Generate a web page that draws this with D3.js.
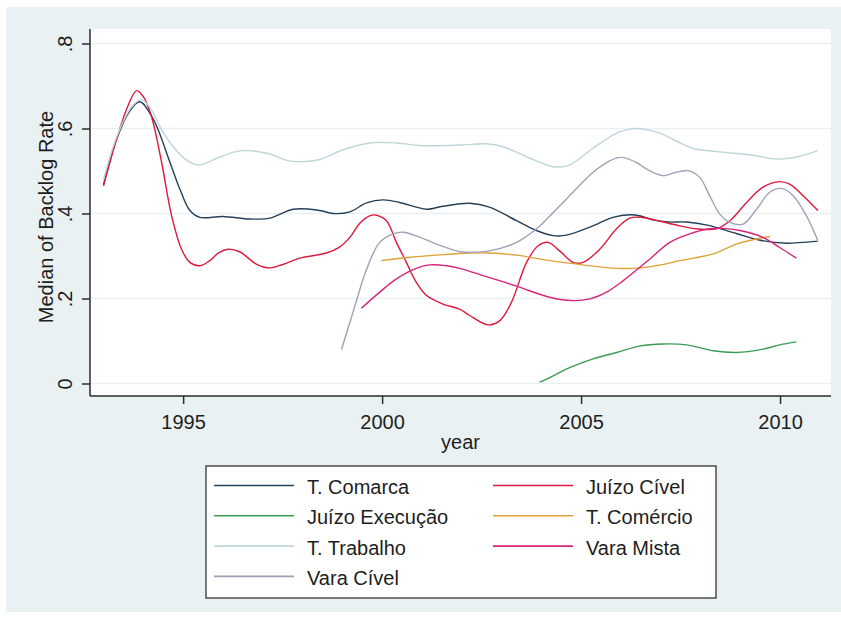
<!DOCTYPE html>
<html>
<head>
<meta charset="utf-8">
<script src="https://cdn.jsdelivr.net/npm/d3@7"></script>
<style>
  html, body { margin: 0; padding: 0; background: #ffffff; }
  svg { display: block; font-family: "Liberation Sans", Arial, sans-serif; }
</style>
</head>
<body>
<svg id="chart" width="841" height="619"></svg>
<script>
// Smoothed median backlog rate by court type, [year, value] pairs
const tComarca = [
  [1993.0,0.468],[1993.33,0.575],[1993.65,0.64],[1993.91,0.663],[1994.25,0.622],
  [1994.67,0.52],[1994.92,0.457],[1995.17,0.407],[1995.42,0.391],[1996.0,0.393],
  [1996.68,0.387],[1997.18,0.389],[1997.77,0.41],[1998.43,0.407],[1998.77,0.40],
  [1999.19,0.404],[1999.61,0.425],[2000.03,0.432],[2000.44,0.426],[2000.86,0.415],
  [2001.12,0.41],[2001.53,0.417],[2002.2,0.424],[2002.7,0.415],[2003.38,0.383],
  [2003.88,0.36],[2004.3,0.348],[2004.63,0.349],[2005.22,0.368],[2005.8,0.391],
  [2006.22,0.397],[2006.5,0.394],[2006.8,0.385],[2007.2,0.38],[2007.65,0.38],
  [2008.2,0.372],[2008.9,0.353],[2009.5,0.337],[2010.16,0.33],[2010.95,0.335]
];
const juizoCivel = [
  [1993.0,0.465],[1993.33,0.575],[1993.6,0.65],[1993.83,0.689],[1994.0,0.675],
  [1994.2,0.63],[1994.46,0.52],[1994.71,0.395],[1994.96,0.316],[1995.17,0.285],
  [1995.42,0.277],[1995.67,0.289],[1995.9,0.308],[1996.13,0.316],[1996.42,0.31],
  [1996.84,0.281],[1997.18,0.272],[1997.5,0.28],[1997.93,0.295],[1998.6,0.307],
  [1998.93,0.321],[1999.2,0.345],[1999.44,0.377],[1999.7,0.395],[1999.86,0.396],
  [2000.11,0.383],[2000.36,0.332],[2000.61,0.285],[2000.86,0.238],[2001.12,0.207],
  [2001.53,0.187],[2001.95,0.175],[2002.2,0.16],[2002.66,0.138],[2002.96,0.148],
  [2003.25,0.191],[2003.63,0.285],[2003.92,0.324],[2004.17,0.332],[2004.46,0.312],
  [2004.8,0.285],[2005.05,0.285],[2005.47,0.316],[2005.89,0.364],[2006.22,0.389],
  [2006.5,0.391],[2006.8,0.386],[2007.48,0.371],[2007.9,0.364],[2008.4,0.364],
  [2008.74,0.383],[2009.16,0.426],[2009.57,0.462],[2009.99,0.475],[2010.24,0.469],
  [2010.58,0.442],[2010.95,0.407]
];
const juizoExecucao = [
  [2003.96,0.003],[2004.3,0.018],[2004.63,0.034],[2005.0,0.048],[2005.3,0.058],
  [2005.89,0.073],[2006.47,0.088],[2007.06,0.093],[2007.65,0.091],[2008.32,0.077],
  [2008.9,0.073],[2009.57,0.081],[2009.99,0.091],[2010.41,0.098]
];
const tComercio = [
  [1999.98,0.289],[2000.7,0.297],[2001.37,0.302],[2001.95,0.306],[2002.7,0.307],
  [2003.38,0.302],[2004.21,0.289],[2005.05,0.279],[2005.89,0.271],[2006.5,0.272],
  [2007.0,0.279],[2007.48,0.289],[2008.32,0.305],[2008.9,0.328],[2009.41,0.34],
  [2009.75,0.346]
];
const tTrabalho = [
  [1993.0,0.48],[1993.35,0.585],[1993.7,0.65],[1993.95,0.668],[1994.2,0.645],
  [1994.42,0.604],[1994.75,0.557],[1995.08,0.526],[1995.38,0.514],[1995.85,0.53],
  [1996.3,0.545],[1996.6,0.548],[1997.18,0.54],[1997.6,0.525],[1998.02,0.522],
  [1998.43,0.527],[1999.02,0.55],[1999.69,0.566],[2000.36,0.566],[2000.95,0.56],
  [2001.95,0.561],[2002.62,0.564],[2003.04,0.557],[2003.72,0.53],[2004.3,0.51],
  [2004.71,0.514],[2005.29,0.553],[2005.96,0.592],[2006.38,0.6],[2006.98,0.589],
  [2007.4,0.57],[2007.82,0.553],[2008.48,0.545],[2009.32,0.537],[2009.9,0.528],
  [2010.41,0.533],[2010.95,0.548]
];
const varaMista = [
  [1999.48,0.177],[1999.94,0.215],[2000.36,0.246],[2000.78,0.268],[2001.2,0.279],
  [2001.62,0.277],[2001.95,0.271],[2002.54,0.254],[2003.38,0.229],[2004.21,0.203],
  [2004.8,0.195],[2005.22,0.199],[2005.64,0.215],[2006.06,0.242],[2006.47,0.273],
  [2006.73,0.293],[2007.23,0.332],[2007.73,0.352],[2008.23,0.364],[2008.57,0.365],
  [2008.99,0.36],[2009.57,0.344],[2009.99,0.32],[2010.41,0.295]
];
const varaCivel = [
  [1998.98,0.08],[1999.27,0.168],[1999.61,0.269],[1999.94,0.332],[2000.28,0.352],
  [2000.53,0.356],[2000.95,0.344],[2001.37,0.328],[2001.95,0.31],[2002.2,0.309],
  [2002.7,0.312],[2003.38,0.332],[2003.88,0.364],[2004.38,0.41],[2004.88,0.458],
  [2005.3,0.497],[2005.72,0.524],[2006.01,0.532],[2006.39,0.52],[2006.64,0.505],
  [2007.06,0.489],[2007.31,0.495],[2007.69,0.501],[2007.98,0.485],[2008.23,0.442],
  [2008.48,0.399],[2008.74,0.379],[2009.07,0.375],[2009.41,0.41],[2009.74,0.45],
  [2010.04,0.459],[2010.33,0.442],[2010.66,0.395],[2010.95,0.336]
];

const seriesNames = ["T. Comarca","Juízo Cível","Juízo Execução","T. Comércio",
                     "T. Trabalho","Vara Mista","Vara Cível"];
const seriesData = [tComarca, juizoCivel, juizoExecucao, tComercio,
                    tTrabalho, varaMista, varaCivel];
const seriesColors = ["#24415a","#dc1a3c","#3c9c55","#dea238",
                      "#bdd6d9","#d8237c","#a29fb8"];

const xTicks = [1995, 2000, 2005, 2010];
const yTicks = [0, 0.2, 0.4, 0.6, 0.8];
const yTickLabels = ["0", ".2", ".4", ".6", ".8"];

const svg = d3.select("#chart");
const W = 841, H = 619;
const plot = { left: 90, right: 831, top: 29, bottom: 396 };

// graph region background
svg.append("rect").attr("x", 6).attr("y", 7).attr("width", W - 6).attr("height", 605)
  .attr("fill", "#eaf1f3");
// plot region
svg.append("rect").attr("x", plot.left).attr("y", plot.top)
  .attr("width", plot.right - plot.left).attr("height", plot.bottom - plot.top)
  .attr("fill", "#ffffff");

const x = d3.scaleLinear().domain([1992.66, 2011.28]).range([plot.left, plot.right]);
const y = d3.scaleLinear().domain([-0.0294, 0.8341]).range([plot.bottom, plot.top]);

// horizontal grid
svg.append("g").selectAll("line").data(yTicks).join("line")
  .attr("x1", plot.left + 1).attr("x2", plot.right)
  .attr("y1", d => y(d)).attr("y2", d => y(d))
  .attr("stroke", "#eaf0f1").attr("stroke-width", 1.5);

// series lines
const line = d3.line().x(d => x(d[0])).y(d => y(d[1])).curve(d3.curveCatmullRom.alpha(0.5));
svg.append("g").selectAll("path").data(seriesData).join("path")
  .attr("d", line)
  .attr("fill", "none")
  .attr("stroke", (d, i) => seriesColors[i])
  .attr("stroke-width", 1.4)
  .attr("stroke-linejoin", "round");

// y axis
const yAxis = svg.append("g").attr("transform", `translate(${plot.left},0)`)
  .call(d3.axisLeft(y).tickValues(yTicks).tickSize(8).tickSizeOuter(0)
    .tickFormat((d, i) => yTickLabels[i]));
yAxis.select(".domain").attr("d", `M0,${plot.top}V${plot.bottom}`);
yAxis.selectAll("text")
  .attr("transform", "rotate(-90)")
  .attr("x", 0).attr("y", -25).attr("dy", "0.35em")
  .attr("text-anchor", "middle");

// x axis
const xAxis = svg.append("g").attr("transform", `translate(0,${plot.bottom})`)
  .call(d3.axisBottom(x).tickValues(xTicks).tickSize(8).tickSizeOuter(0)
    .tickFormat(d3.format("d")));
xAxis.select(".domain").attr("d", `M${plot.left},0H${plot.right}`);
xAxis.selectAll("text").attr("y", 26).attr("dy", "0.35em");

[yAxis, xAxis].forEach(g => {
  g.selectAll(".domain, line").attr("stroke", "#2b2b2b").attr("stroke-width", 1.5);
  g.selectAll("text").attr("font-size", 20).attr("fill", "#1e1e1e")
    .attr("font-family", "'Liberation Sans', Arial, sans-serif");
});

// axis titles
svg.append("text")
  .attr("transform", `translate(53,217) rotate(-90)`)
  .attr("text-anchor", "middle").attr("font-size", 20).attr("fill", "#1e1e1e")
  .text("Median of Backlog Rate");
svg.append("text")
  .attr("x", (plot.left + plot.right) / 2).attr("y", 449)
  .attr("text-anchor", "middle").attr("font-size", 20).attr("fill", "#1e1e1e")
  .text("year");

// legend
const legend = svg.append("g");
legend.append("rect").attr("x", 206).attr("y", 466).attr("width", 510).attr("height", 132)
  .attr("fill", "#ffffff").attr("stroke", "#333333").attr("stroke-width", 1.3);
const colX = [214, 493], lineLen = 80, rowY0 = 485.5, rowStep = 30.3;
const items = legend.selectAll("g.item").data(seriesNames).join("g")
  .attr("class", "item")
  .attr("transform", (d, i) => `translate(${colX[i % 2]},${rowY0 + Math.floor(i / 2) * rowStep})`);
items.append("line").attr("x1", 0).attr("x2", lineLen).attr("y1", 0).attr("y2", 0)
  .attr("stroke", (d, i) => seriesColors[i]).attr("stroke-width", 1.6);
items.append("text").attr("x", 93).attr("y", 1.5).attr("dy", "0.35em")
  .attr("font-size", 20).attr("fill", "#1e1e1e").text(d => d);
</script>
</body>
</html>
